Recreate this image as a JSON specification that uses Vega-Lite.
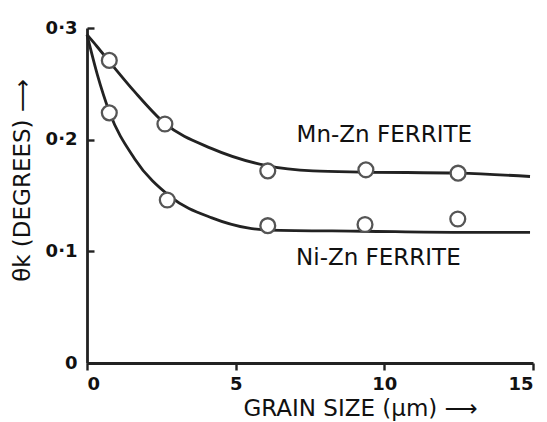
{
  "$schema": "https://vega.github.io/schema/vega-lite/v6.json",
  "width": 446,
  "height": 335,
  "autosize": "none",
  "padding": {"left": 87, "top": 28, "right": 14, "bottom": 59},
  "background": "white",
  "config": {
    "view": {"stroke": null},
    "font": "DejaVu Sans",
    "axis": {"grid": false, "domainColor": "#222", "domainWidth": 2.8, "tickColor": "#222", "tickWidth": 2.4, "labelColor": "#111", "labelFont": "DejaVu Sans", "labelFontSize": 18, "labelFontWeight": "bold", "titleFont": "DejaVu Sans", "titleFontWeight": "normal", "titleColor": "#111", "titleFontSize": 23}
  },
  "datasets": {
    "curves": [
      {"series": "Mn-Zn", "x": 0, "y": 0.294},
      {"series": "Mn-Zn", "x": 0.35, "y": 0.283},
      {"series": "Mn-Zn", "x": 0.75, "y": 0.270},
      {"series": "Mn-Zn", "x": 1.6, "y": 0.243},
      {"series": "Mn-Zn", "x": 2.6, "y": 0.215},
      {"series": "Mn-Zn", "x": 4.2, "y": 0.192},
      {"series": "Mn-Zn", "x": 6.0, "y": 0.177},
      {"series": "Mn-Zn", "x": 7.6, "y": 0.172},
      {"series": "Mn-Zn", "x": 9.3, "y": 0.171},
      {"series": "Mn-Zn", "x": 12.5, "y": 0.170},
      {"series": "Mn-Zn", "x": 14.9, "y": 0.167},
      {"series": "Ni-Zn", "x": 0, "y": 0.294},
      {"series": "Ni-Zn", "x": 0.35, "y": 0.258},
      {"series": "Ni-Zn", "x": 0.75, "y": 0.225},
      {"series": "Ni-Zn", "x": 1.6, "y": 0.183},
      {"series": "Ni-Zn", "x": 2.8, "y": 0.149},
      {"series": "Ni-Zn", "x": 4.2, "y": 0.130},
      {"series": "Ni-Zn", "x": 5.4, "y": 0.121},
      {"series": "Ni-Zn", "x": 6.1, "y": 0.119},
      {"series": "Ni-Zn", "x": 9.3, "y": 0.118},
      {"series": "Ni-Zn", "x": 12.5, "y": 0.117},
      {"series": "Ni-Zn", "x": 14.9, "y": 0.117}
    ],
    "points": [
      {"series": "Mn-Zn", "x": 0.75, "y": 0.271},
      {"series": "Mn-Zn", "x": 2.62, "y": 0.214},
      {"series": "Mn-Zn", "x": 6.08, "y": 0.172},
      {"series": "Mn-Zn", "x": 9.38, "y": 0.173},
      {"series": "Mn-Zn", "x": 12.48, "y": 0.170},
      {"series": "Ni-Zn", "x": 0.75, "y": 0.224},
      {"series": "Ni-Zn", "x": 2.70, "y": 0.146},
      {"series": "Ni-Zn", "x": 6.08, "y": 0.123},
      {"series": "Ni-Zn", "x": 9.35, "y": 0.124},
      {"series": "Ni-Zn", "x": 12.47, "y": 0.129}
    ],
    "labels": [
      {"label": "Mn-Zn FERRITE", "x": 10.0, "y": 0.204},
      {"label": "Ni-Zn FERRITE", "x": 9.8, "y": 0.094}
    ]
  },
  "layer": [
    {
      "data": {"name": "curves"},
      "mark": {"type": "line", "interpolate": "monotone", "color": "#222", "strokeWidth": 2.8},
      "encoding": {
        "x": {"field": "x", "type": "quantitative", "scale": {"domain": [0, 15], "nice": false},
          "axis": {"values": [0, 5, 10, 15], "tickSize": 7, "labelPadding": 5, "title": "GRAIN SIZE (μm) ⟶", "titleX": 273, "titleY": 45, "titleBaseline": "middle"}},
        "y": {"field": "y", "type": "quantitative", "scale": {"domain": [0, 0.3], "nice": false},
          "axis": {"values": [0, 0.1, 0.2, 0.3], "tickSize": -7, "labelPadding": 17, "labelExpr": "replace(format(datum.value, '.1~f'), '.', '·')", "title": "θk (DEGREES) ⟶", "titleX": -65, "titleY": 152, "titleBaseline": "middle", "titleAngle": -90}},
        "detail": {"field": "series"}
      }
    },
    {
      "data": {"name": "points"},
      "mark": {"type": "point", "shape": "circle", "filled": false, "fill": "white", "fillOpacity": 1, "stroke": "#555", "strokeWidth": 2.3, "size": 220},
      "encoding": {
        "x": {"field": "x", "type": "quantitative"},
        "y": {"field": "y", "type": "quantitative"}
      }
    },
    {
      "data": {"name": "labels"},
      "mark": {"type": "text", "font": "DejaVu Sans", "fontSize": 23, "color": "#111", "align": "center", "baseline": "middle"},
      "encoding": {
        "x": {"field": "x", "type": "quantitative"},
        "y": {"field": "y", "type": "quantitative"},
        "text": {"field": "label"}
      }
    }
  ]
}
